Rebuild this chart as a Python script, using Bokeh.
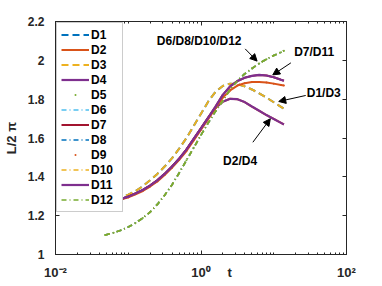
from bokeh.plotting import figure
from bokeh.models import (Range1d, FixedTicker, LinearAxis, LogAxis, Legend, LegendItem,
                          Label, Arrow, NormalHead, CustomJSTickFormatter)
from bokeh.embed import file_html
from bokeh.resources import INLINE

# ---------------- data ----------------
t = [0.0479, 0.0631, 0.0794, 0.1, 0.1259, 0.1585, 0.1995, 0.2512, 0.3162, 0.3981,
     0.5012, 0.631, 0.7943, 1.0, 1.259, 1.585, 1.995, 2.512, 3.162, 3.981,
     5.012, 6.31, 7.943, 10.0, 12.59, 13.8]

L_D3 = [1.27, 1.28, 1.292, 1.308, 1.326, 1.352, 1.382, 1.415, 1.453, 1.495,
        1.545, 1.6, 1.662, 1.725, 1.788, 1.838, 1.868, 1.88, 1.878, 1.866,
        1.85, 1.83, 1.808, 1.784, 1.76, 1.751]
L_D1 = list(L_D3)

L_D4 = [1.268, 1.276, 1.286, 1.298, 1.314, 1.332, 1.355, 1.382, 1.415, 1.452,
        1.493, 1.54, 1.595, 1.65, 1.705, 1.755, 1.787, 1.802, 1.8, 1.785,
        1.762, 1.74, 1.718, 1.698, 1.678, 1.67]
L_D2 = list(L_D4)

L_D11 = [1.268, 1.276, 1.286, 1.298, 1.314, 1.332, 1.355, 1.382, 1.415, 1.452,
         1.493, 1.54, 1.595, 1.65, 1.705, 1.762, 1.822, 1.866, 1.893, 1.91,
         1.92, 1.925, 1.922, 1.913, 1.9, 1.895]
L_D7 = list(L_D11)

L_D9 = [1.266, 1.273, 1.283, 1.294, 1.31, 1.327, 1.35, 1.376, 1.409, 1.446,
        1.487, 1.533, 1.588, 1.643, 1.698, 1.755, 1.808, 1.845, 1.87, 1.882,
        1.888, 1.889, 1.886, 1.88, 1.873, 1.87]

L_D12 = [1.1, 1.112, 1.125, 1.142, 1.162, 1.188, 1.218, 1.258, 1.305, 1.358,
         1.42, 1.485, 1.55, 1.615, 1.678, 1.738, 1.792, 1.85, 1.895, 1.93,
         1.958, 1.984, 2.006, 2.025, 2.042, 2.05]
L_D5 = list(L_D12)
L_D6 = list(L_D12)
L_D8 = list(L_D12)
L_D10 = list(L_D12)

series_names = ["D1", "D2", "D3", "D4", "D5", "D6", "D7", "D8", "D9", "D10", "D11", "D12"]
series_values = [L_D1, L_D2, L_D3, L_D4, L_D5, L_D6, L_D7, L_D8, L_D9, L_D10, L_D11, L_D12]

y_ticks = [1.0, 1.2, 1.4, 1.6, 1.8, 2.0, 2.2]
x_major = [0.01, 1, 100]
x_minor = [m * 10.0 ** e for e in (-2, -1, 0, 1) for m in range(1, 10)] + [100]
x_tick_labels = ["10\u207b\u00b2", "10\u2070", "10\u00b2"]
x_title = "t"
x_title_at = 2.47
y_title = "L/2 \u03c0"

# annotation texts and arrows (tail -> tip), in data coordinates
notes = ["D6/D8/D10/D12", "D7/D11", "D1/D3", "D2/D4"]
note_t = [0.247, 19.1, 28.4, 2.01]
note_L = [2.097, 2.042, 1.834, 1.482]
arrow_t0 = [4.05, 17.2, 27.5, 5.16]
arrow_L0 = [2.059, 1.987, 1.819, 1.578]
arrow_t1 = [5.9, 9.69, 11.7, 8.97]
arrow_L1 = [1.996, 1.925, 1.788, 1.699]

# ---------------- styles ----------------
C_BLUE, C_ORANGE, C_YELLOW, C_PURPLE = "#0072BD", "#D95319", "#EDB120", "#7E2F8E"
C_GREEN, C_CYAN, C_RED = "#77AC30", "#4DBEEE", "#A2142F"
DASH = "7 4"
DASHDOT = "5 3 1 3"
# (colour, kind, dash, width, draw a connecting line for the marker series)
styles = {
    "D1": (C_BLUE, "line", DASH, 2.0, True),
    "D2": (C_ORANGE, "line", "solid", 2.0, True),
    "D3": (C_YELLOW, "line", DASH, 2.0, True),
    "D4": (C_PURPLE, "line", "solid", 2.2, True),
    "D5": (C_GREEN, "dot", None, 2.0, False),
    "D6": (C_CYAN, "line", DASHDOT, 1.7, True),
    "D7": (C_RED, "line", "solid", 2.0, True),
    "D8": (C_BLUE, "line", DASHDOT, 1.7, True),
    "D9": (C_ORANGE, "dot", None, 2.0, True),
    "D10": (C_YELLOW, "line", DASHDOT, 1.7, True),
    "D11": (C_PURPLE, "line", "solid", 2.2, True),
    "D12": (C_GREEN, "line", DASHDOT, 1.7, True),
}

FONT = "Liberation Sans"
AX = "#262626"

p = figure(width=382, height=286, x_axis_type="log",
           x_range=Range1d(0.01, 100), y_range=Range1d(1, 2.2),
           output_backend="svg", toolbar_location=None,
           min_border_left=53, min_border_right=36, min_border_top=21, min_border_bottom=32)
p.grid.visible = False
p.background_fill_color = "white"
p.border_fill_color = "white"
p.outline_line_color = AX
p.outline_line_width = 1


def empty_fmt():
    return CustomJSTickFormatter(code="return ''")


def style_axis(ax, ticker, show_labels):
    ax.ticker = ticker
    ax.axis_line_color = AX
    ax.major_tick_line_color = AX
    ax.minor_tick_line_color = AX
    ax.major_tick_in = 4
    ax.major_tick_out = 0
    ax.minor_tick_in = 2
    ax.minor_tick_out = 0
    if not show_labels:
        ax.formatter = empty_fmt()
        ax.major_label_text_font_size = "0px"
        ax.major_label_standoff = 0


style_axis(p.xaxis[0], FixedTicker(ticks=x_major, minor_ticks=x_minor), False)
style_axis(p.yaxis[0], FixedTicker(ticks=y_ticks, minor_ticks=[]), True)
ya = p.yaxis[0]
ya.formatter = CustomJSTickFormatter(code="return (Math.round(tick*10)/10).toString()")
ya.major_label_text_font = FONT
ya.major_label_text_font_style = "bold"
ya.major_label_text_font_size = "12px"
ya.major_label_text_color = AX
ya.major_label_standoff = 11
ya.axis_label = y_title
ya.axis_label_text_font = FONT
ya.axis_label_text_font_style = "bold"
ya.axis_label_text_font_size = "13px"
ya.axis_label_text_color = AX
ya.axis_label_standoff = 6

# second bottom axis that carries the tick texts 10^n and the title "t"
lab_ticks = x_major + [x_title_at]
lab_texts = x_tick_labels + [x_title]
xb = LogAxis(ticker=FixedTicker(ticks=lab_ticks, minor_ticks=[]),
             formatter=CustomJSTickFormatter(
                 args=dict(v=lab_ticks, s=lab_texts),
                 code="for (let i = 0; i < v.length; i++) { if (Math.abs(v[i] - tick) <= 1e-6 * v[i]) return s[i]; } return '';"))
xb.axis_line_color = None
xb.major_tick_line_color = None
xb.minor_tick_line_color = None
xb.major_tick_in = 0
xb.major_tick_out = 0
xb.major_label_standoff = 10
xb.major_label_text_font = FONT
xb.major_label_text_font_style = "bold"
xb.major_label_text_font_size = "13px"
xb.major_label_text_color = AX
p.add_layout(xb, "below")

top_axis = LogAxis()
style_axis(top_axis, FixedTicker(ticks=x_major, minor_ticks=x_minor), False)
p.add_layout(top_axis, "above")
right_axis = LinearAxis()
style_axis(right_axis, FixedTicker(ticks=y_ticks, minor_ticks=[]), False)
p.add_layout(right_axis, "right")

items = []
for name, vals in zip(series_names, series_values):
    color, kind, dash, width, connect = styles[name]
    if kind == "line":
        r = p.line(t, vals, line_color=color, line_width=width, line_dash=dash)
        items.append(LegendItem(label=name, renderers=[r]))
    else:
        if connect:
            p.line(t, vals, line_color=color, line_width=width)
        r = p.scatter(t, vals, marker="circle", size=2, line_color=None, fill_color=color)
        items.append(LegendItem(label=name, renderers=[r]))

legend = Legend(items=items, location=(1, 42), margin=0, padding=4, spacing=0,
                glyph_width=28, glyph_height=5, label_height=15, label_width=27,
                label_standoff=2, label_text_font=FONT, label_text_font_style="bold",
                label_text_font_size="12px", label_text_color="black",
                border_line_color="#9a9a9a", border_line_width=1,
                background_fill_color="white", background_fill_alpha=1)
p.add_layout(legend)

for txt, x, y in zip(notes, note_t, note_L):
    p.add_layout(Label(x=x, y=y, text=txt, text_font=FONT, text_font_style="bold",
                       text_font_size="12px", text_color="black",
                       text_align="left", text_baseline="middle"))

for x0, y0, x1, y1 in zip(arrow_t0, arrow_L0, arrow_t1, arrow_L1):
    p.add_layout(Arrow(end=NormalHead(size=7, fill_color="black", line_color="black", line_width=1),
                       x_start=x0, y_start=y0, x_end=x1, y_end=y1,
                       line_color="black", line_width=1))

open("out.html", "w").write(file_html(p, INLINE))
